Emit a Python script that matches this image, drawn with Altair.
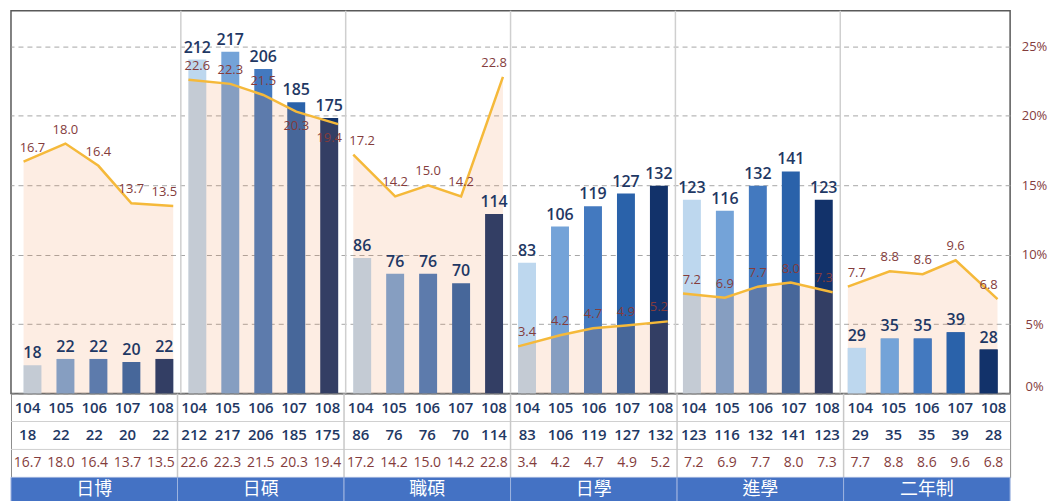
import altair as alt
import pandas as pd

groups = ["日博", "日碩", "職碩", "日學", "進學", "二年制"]
years = ["104", "105", "106", "107", "108"]
counts = [
    [18, 22, 22, 20, 22],
    [212, 217, 206, 185, 175],
    [86, 76, 76, 70, 114],
    [83, 106, 119, 127, 132],
    [123, 116, 132, 141, 123],
    [29, 35, 35, 39, 28],
]
pcts = [
    [16.7, 18.0, 16.4, 13.7, 13.5],
    [22.6, 22.3, 21.5, 20.3, 19.4],
    [17.2, 14.2, 15.0, 14.2, 22.8],
    [3.4, 4.2, 4.7, 4.9, 5.2],
    [7.2, 6.9, 7.7, 8.0, 7.3],
    [7.7, 8.8, 8.6, 9.6, 6.8],
]
row_labels = ["年度", "人數", "%"]
pct_ticks = [0, 5, 10, 15, 20, 25]
year_colors = ["#bdd7ee", "#74a3d8", "#4379bf", "#2a62aa", "#12326a"]

NAVY = "#1f3864"
RED = "#843c3c"
ny = len(years)

rows = []
for g, name in enumerate(groups):
    for y, yr in enumerate(years):
        rows.append(dict(group=name, year=yr, idx=g * ny + y,
                         count=counts[g][y], pct=pcts[g][y],
                         pct_label=f"{pcts[g][y]:.1f}"))
df = pd.DataFrame(rows)
n = len(df)

gdf = pd.DataFrame({
    "group": groups,
    "start": [g * ny - 0.5 for g in range(len(groups))],
    "end": [g * ny + ny - 0.5 for g in range(len(groups))],
    "mid": [g * ny + (ny - 1) / 2 for g in range(len(groups))],
})
sep = pd.DataFrame({"b": [g * ny - 0.5 for g in range(1, len(groups))]})

W = 1002
H = 384
BAR = 18
PX_CNT = 1.58    # pixels per person
PX_PCT = 13.93   # pixels per percent
HALF_BAR = BAR / 2 / (W / 30)  # half a bar width, in slot units
xs = alt.Scale(domain=[-0.5, n - 0.5], nice=False, zero=False)
cnt_scale = alt.Scale(domain=[0, H / PX_CNT], nice=False)
pct_scale = alt.Scale(domain=[0, H / PX_PCT], nice=False)
X = alt.X("idx:Q", scale=xs, axis=None)
LX = alt.X("lx:Q", scale=xs, axis=None)
Ycnt = alt.Y("count:Q", scale=cnt_scale, axis=None)
Ypct = alt.Y("pct:Q", scale=pct_scale, axis=None, stack=None)

base = alt.Chart(df)
# the line of each group runs from the left edge of its first bar to the right edge of its last bar
lbase = base.transform_calculate(
    lx=f"datum.idx + (datum.year == '{years[0]}' ? -{HALF_BAR} : datum.year == '{years[-1]}' ? {HALF_BAR} : 0)"
)

sep_rule = alt.Chart(sep).mark_rule(color="#cfcfcf", strokeWidth=1.5).encode(
    x=alt.X("b:Q", scale=xs, axis=None))

bar_color = alt.Color("year:N", scale=alt.Scale(domain=years, range=year_colors), legend=None)
bars = base.mark_bar(size=BAR).encode(x=X, y=Ycnt, color=bar_color)

area = lbase.mark_area(color="#f18541", opacity=0.15).encode(
    x=LX,
    y=alt.Y("pct:Q", scale=pct_scale, stack=None,
            axis=alt.Axis(orient="right", values=pct_ticks, labelExpr="datum.value + '%'",
                          grid=True, gridDash=[5, 4], gridColor="#a6a6a6", domain=False,
                          ticks=False, tickSize=0, labelColor=RED, labelFontSize=13,
                          labelPadding=24, labelAlign="center", labelFont="Open Sans",
                          labelFlush=True, title=None)),
    detail="group:N")

bars_front = base.mark_bar(size=BAR).encode(x=X, y=Ycnt, color=bar_color).transform_filter(
    alt.datum.group == groups[-1])

line = lbase.mark_line(color="#f5b93a", strokeWidth=2.5).encode(x=LX, y=Ypct, detail="group:N")

cnt_text = base.mark_text(baseline="bottom", dy=-4, fontSize=16, fontWeight=600,
                          color=NAVY, font="Open Sans").encode(x=X, y=Ycnt, text="count:Q")

# percent labels go below the line when the count label sits just above it
lab = base.transform_calculate(
    gap=f"datum.count * {PX_CNT} - datum.pct * {PX_PCT}"
).transform_calculate(
    below="datum.gap >= 0 && datum.gap < 16"
)
pct_text_up = lab.mark_text(baseline="bottom", dy=-7, fontSize=13, color=RED,
                            font="Open Sans").encode(x=X, y=Ypct, text="pct_label:N").transform_filter(
    "!datum.below")
pct_text_dn = lab.mark_text(baseline="top", dy=8, fontSize=13, color=RED,
                            font="Open Sans").encode(x=X, y=Ypct, text="pct_label:N").transform_filter(
    "datum.below")

top = alt.layer(sep_rule, bars, area, bars_front, line, cnt_text, pct_text_up, pct_text_dn).resolve_scale(
    y="independent").properties(width=W, height=H,
                                view=alt.ViewBackground(stroke="#595959", strokeWidth=1.5))

# table
tdf = pd.concat([
    df.assign(row=row_labels[0], txt=df["year"]),
    df.assign(row=row_labels[1], txt=df["count"].astype(str)),
    df.assign(row=row_labels[2], txt=df["pct_label"]),
], ignore_index=True)

row_scale = alt.Scale(domain=row_labels, paddingInner=0, paddingOuter=0)
Yrow_axis = alt.Y("row:N", scale=row_scale, sort=row_labels,
                  axis=alt.Axis(orient="right", title=None, domain=False, ticks=False, tickSize=0,
                                labelPadding=24, labelAlign="center", labelFont="Noto Sans CJK TC",
                                labelFontSize=14,
                                labelColor={"condition": {"test": "datum.value === '%'", "value": RED},
                                            "value": NAVY}))
Yrow = alt.Y("row:N", scale=row_scale, sort=row_labels, axis=None)

hl = pd.DataFrame({"row": row_labels[1:]})
hlines = alt.Chart(hl).mark_rule(color="#d0d0d0", strokeWidth=1).encode(
    y=alt.Y("row:N", scale=row_scale, sort=row_labels, axis=None, bandPosition=0))

tsep = alt.Chart(sep).mark_rule(color="#c8c8c8", strokeWidth=1.5).encode(
    x=alt.X("b:Q", scale=xs, axis=None))

t_navy = alt.Chart(tdf).mark_text(fontSize=15, fontWeight=600, color=NAVY, font="Open Sans").encode(
    x=X, y=Yrow_axis, text="txt:N").transform_filter(alt.datum.row != row_labels[2])
t_red = alt.Chart(tdf).mark_text(fontSize=14, color=RED, font="Open Sans").encode(
    x=X, y=Yrow, text="txt:N").transform_filter(alt.datum.row == row_labels[2])

table = alt.layer(hlines, tsep, t_navy, t_red).properties(
    width=W, height=84, view=alt.ViewBackground(stroke="#8c8c8c", strokeWidth=1))

band_rect = alt.Chart(gdf).mark_rect(color="#4472c4", stroke="#9db3df", strokeWidth=1).encode(
    x=alt.X("start:Q", scale=xs, axis=None), x2="end:Q")
band_text = alt.Chart(gdf).mark_text(color="white", fontSize=18, font="Noto Sans CJK TC").encode(
    x=alt.X("mid:Q", scale=xs, axis=None), text="group:N")
band = alt.layer(band_rect, band_text).properties(
    width=W, height=26, view=alt.ViewBackground(stroke=None))

chart = alt.vconcat(top, table, band, spacing=0, bounds="flush").properties(
    padding={"left": 2, "top": 0, "right": 0, "bottom": 0})

chart.save("out.html", embed_options={"renderer": "svg", "actions": False})
